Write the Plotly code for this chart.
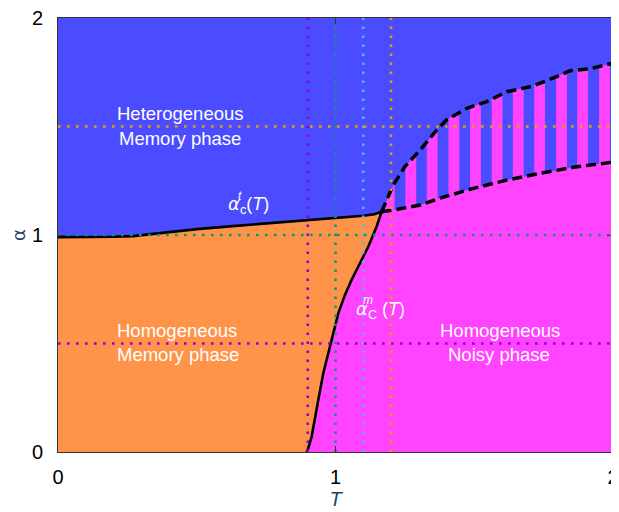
import numpy as np
import plotly.graph_objects as go

# ---- data ----
# transition line alpha_c^t(T) (solid, left part)
t_curve_T = [0.0, 0.1, 0.2, 0.27, 0.39, 0.5, 0.63, 0.8, 0.87, 1.0, 1.1, 1.14, 1.166]
t_curve_a = [0.99, 0.99, 0.992, 0.995, 1.012, 1.027, 1.041, 1.058, 1.066, 1.078, 1.089, 1.096, 1.107]

# transition line alpha_c^m(T) (solid, steep part)
m_curve_T = [0.894, 0.899, 0.914, 0.926, 0.938, 0.956, 0.974, 0.992, 1.010, 1.034, 1.058, 1.088, 1.118, 1.148, 1.166]
m_curve_a = [0.0, 0.006, 0.071, 0.163, 0.240, 0.363, 0.455, 0.547, 0.639, 0.724, 0.793, 0.870, 0.946, 1.038, 1.107]

# upper dashed boundary
up_T = [1.166, 1.185, 1.208, 1.25, 1.305, 1.365, 1.40, 1.473, 1.545, 1.617, 1.713, 1.797, 1.845, 1.917, 2.0]
up_a = [1.107, 1.16, 1.23, 1.315, 1.392, 1.484, 1.53, 1.584, 1.615, 1.660, 1.687, 1.730, 1.757, 1.766, 1.792]

# lower dashed boundary
lo_T = [1.166, 1.208, 1.305, 1.377, 1.497, 1.617, 1.737, 1.857, 2.0]
lo_a = [1.107, 1.115, 1.138, 1.170, 1.215, 1.253, 1.284, 1.312, 1.336]

# magenta stripe starts within the mixed region
stripe_starts = [1.174, 1.252, 1.329, 1.407, 1.485, 1.563, 1.639, 1.716, 1.795, 1.871, 1.950]
stripe_width = 0.039

# reference lines
vlines_T = [0.9, 1.0, 1.1, 1.2]
vlines_col = ["#9400D3", "#009E73", "#56B4E9", "#E69F00"]
hlines_a = [0.5, 1.0, 1.5]
hlines_col = ["#9400D3", "#009E73", "#E69F00"]

BLUE = "#4b4cff"
ORANGE = "#ff9349"
MAGENTA = "#ff43ff"

fig = go.Figure()

# orange region: under t-curve, left of m-curve
ox = [0.0] + t_curve_T + m_curve_T[::-1][1:] + [0.0]
oy = [0.0] + t_curve_a + m_curve_a[::-1][1:] + [0.0]
fig.add_trace(go.Scatter(x=ox, y=oy, fill="toself", fillcolor=ORANGE, mode="lines",
                         line=dict(width=0), hoverinfo="skip", showlegend=False))

# magenta region: right of m-curve, below lower boundary
mx = m_curve_T + lo_T[1:] + [2.0, m_curve_T[0]]
my = m_curve_a + lo_a[1:] + [0.0, 0.0]
fig.add_trace(go.Scatter(x=mx, y=my, fill="toself", fillcolor=MAGENTA, mode="lines",
                         line=dict(width=0), hoverinfo="skip", showlegend=False))

# stripes
for s in stripe_starts:
    a, b = max(s, up_T[0]), min(s + stripe_width, 2.0)
    xs = np.linspace(a, b, 6)
    top = np.interp(xs, up_T, up_a)
    bot = np.interp(xs, lo_T, lo_a)
    px = list(xs) + list(xs[::-1])
    py = list(bot) + list(top[::-1])
    fig.add_trace(go.Scatter(x=px, y=py, fill="toself", fillcolor=MAGENTA, mode="lines",
                             line=dict(width=0), hoverinfo="skip", showlegend=False))

# black boundaries
fig.add_trace(go.Scatter(x=t_curve_T, y=t_curve_a, mode="lines",
                         line=dict(color="black", width=2.6), showlegend=False))
fig.add_trace(go.Scatter(x=m_curve_T, y=m_curve_a, mode="lines",
                         line=dict(color="black", width=2.6), showlegend=False))
fig.add_trace(go.Scatter(x=up_T, y=up_a, mode="lines",
                         line=dict(color="black", width=3.5, dash="10px,5px"), showlegend=False))
fig.add_trace(go.Scatter(x=lo_T, y=lo_a, mode="lines",
                         line=dict(color="black", width=3.5, dash="10px,5px"), showlegend=False))

# dotted reference lines
for t, c in zip(vlines_T, vlines_col):
    fig.add_trace(go.Scatter(x=[t, t], y=[0, 2], mode="lines",
                             line=dict(color=c, width=2.6, dash="2.6px,6.4px"), showlegend=False))
for a, c in zip(hlines_a, hlines_col):
    fig.add_trace(go.Scatter(x=[0, 2], y=[a, a], mode="lines",
                             line=dict(color=c, width=2.6, dash="2.6px,6.4px"), showlegend=False))

FONT = "Liberation Sans, Arial, sans-serif"
GREEK = "DejaVu Sans"
wf = dict(family=FONT, size=18.5, color="white")
ann = [
    dict(x=0.44, y=1.56, text="Heterogeneous"),
    dict(x=0.44, y=1.445, text="Memory phase"),
    dict(x=0.43, y=0.562, text="Homogeneous"),
    dict(x=0.432, y=0.45, text="Memory phase"),
    dict(x=1.592, y=0.562, text="Homogeneous"),
    dict(x=1.59, y=0.45, text="Noisy phase"),
]
annotations = [dict(a, xref="x", yref="y", showarrow=False, font=wf,
                    xanchor="center", yanchor="middle") for a in ann]
alpha_span = "<span style='font-family:DejaVu Sans'><i>α</i></span>"
annotations += [
    dict(x=0.604, y=1.14, text=alpha_span + "<sub>c</sub>(<i>T</i>)", xref="x", yref="y",
         showarrow=False, font=dict(family=FONT, size=18, color="white"),
         xanchor="left", yanchor="middle"),
    dict(x=0.656, y=1.178, text="<i>t</i>", xref="x", yref="y", showarrow=False,
         font=dict(family=FONT, size=12, color="white"), xanchor="center", yanchor="middle"),
    dict(x=1.066, y=0.655, text=alpha_span + "<sub>C</sub> (<i>T</i>)", xref="x", yref="y",
         showarrow=False, font=dict(family=FONT, size=18, color="white"),
         xanchor="left", yanchor="middle"),
    dict(x=1.118, y=0.70, text="<i>m</i>", xref="x", yref="y", showarrow=False,
         font=dict(family=FONT, size=12, color="white"), xanchor="center", yanchor="middle"),
]

axis_common = dict(range=[0, 2], tickvals=[0, 1, 2], ticktext=["0", "1", "2"],
                   ticks="inside", ticklen=6, tickcolor="#333", showline=True,
                   linecolor="#333", linewidth=1, mirror="allticks", showgrid=False,
                   zeroline=False, automargin=False, ticklabeloverflow="allow",
                   tickfont=dict(family=FONT, size=20, color="black"))

# the page body adds an 8px offset, so the figure is sized to compensate
fig.update_layout(
    width=619, height=504,
    margin=dict(l=50, r=14, t=10, b=60),
    paper_bgcolor="white", plot_bgcolor=BLUE,
    xaxis=dict(axis_common, title=dict(text="<i>T</i>", font=dict(family=FONT, size=20), standoff=0),
               ticklabelstandoff=7),
    yaxis=dict(axis_common, title=dict(text="α", font=dict(family=GREEK, size=18), standoff=4),
               ticklabelstandoff=10),
    annotations=annotations,
)

fig.write_html("out.html")
